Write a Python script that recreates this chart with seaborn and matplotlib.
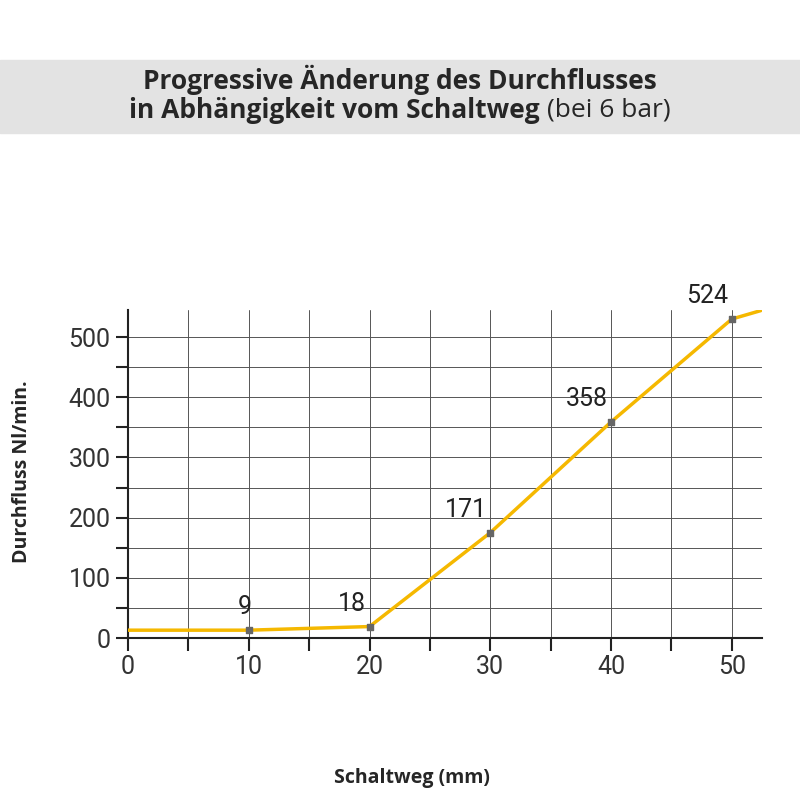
import numpy as np
import pandas as pd
import seaborn as sns
import matplotlib.pyplot as plt
from matplotlib.patches import Rectangle
from matplotlib.ticker import MultipleLocator

sns.set_style('white')
plt.rcParams['font.family'] = ['Liberation Sans Narrow', 'Roboto', 'DejaVu Sans']

# curve
weg = [0, 10, 20, 30, 40, 50, 52.4]
fluss = [13, 13, 19, 175, 359, 530, 544]
# marked points and their printed labels
punkt_x = [10, 20, 30, 40, 50]
punkt_y = [13, 19, 175, 359, 530]
punkt_label = ['9', '18', '171', '358', '524']

df = pd.DataFrame({'weg': weg, 'fluss': fluss})

fig = plt.figure(figsize=(8, 8), dpi=100)
ax = fig.add_axes([0.16, 0.2025, 0.7925, 0.41])

sns.lineplot(data=df, x='weg', y='fluss', color='#f5b800', linewidth=2.5, ax=ax, zorder=3)
ax.scatter(punkt_x, punkt_y, marker='s', s=22, color='#666666', zorder=4)
for x, y, t in zip(punkt_x, punkt_y, punkt_label):
    ax.text(x - 0.3, y + 18, t, ha='right' if x > 10 else 'center', va='bottom', fontsize=18, color='#222222')

ax.set_xlim(0, 52.5)
ax.set_ylim(0, 545)
ax.xaxis.set_major_locator(MultipleLocator(10))
ax.xaxis.set_minor_locator(MultipleLocator(5))
ax.yaxis.set_major_locator(MultipleLocator(100))
ax.yaxis.set_minor_locator(MultipleLocator(50))
ax.grid(True, which='both', color='#555555', linewidth=0.7)
ax.tick_params(which='both', direction='out', length=9, width=1.5, color='#222222', labelsize=18, labelcolor='#333333')
ax.tick_params(which='both', bottom=True, left=True)
for s in ['top', 'right']:
    ax.spines[s].set_visible(False)
for s in ['left', 'bottom']:
    ax.spines[s].set_linewidth(1.5)
    ax.spines[s].set_color('#222222')
ax.set_xlabel('')
ax.set_ylabel('')

fig.text(0.028, 0.41, 'Durchfluss Nl/min.', rotation=90, ha='center', va='center',
         fontsize=14, fontweight='bold', family=['Open Sans', 'DejaVu Sans'])
fig.text(0.515, 0.027, 'Schaltweg (mm)', ha='center', va='center',
         fontsize=14, fontweight='bold', family=['Open Sans', 'DejaVu Sans'])

fig.patches.append(Rectangle((0, 0.834), 1, 0.091, transform=fig.transFigure, color='#e3e3e3', zorder=0))
fig.text(0.5, 0.9, 'Progressive Änderung des Durchflusses', ha='center', va='center',
         fontsize=19, fontweight='bold', family=['Open Sans', 'DejaVu Sans'])
t1 = fig.text(0.5, 0.862, 'in Abhängigkeit vom Schaltweg ', ha='right', va='center',
              fontsize=19, fontweight='bold', family=['Open Sans', 'DejaVu Sans'])
t2 = fig.text(0.5, 0.862, '(bei 6 bar)', ha='left', va='center',
              fontsize=19, family=['Open Sans', 'DejaVu Sans'])
fig.canvas.draw()
# center the two-part second line
bb = t1.get_window_extent()
w_total = bb.width + t2.get_window_extent().width
shift = (w_total / 2 - bb.width) / fig.bbox.width
t1.set_x(0.5 - shift)
t2.set_x(0.5 - shift)

fig.savefig('out.png', dpi=100)
